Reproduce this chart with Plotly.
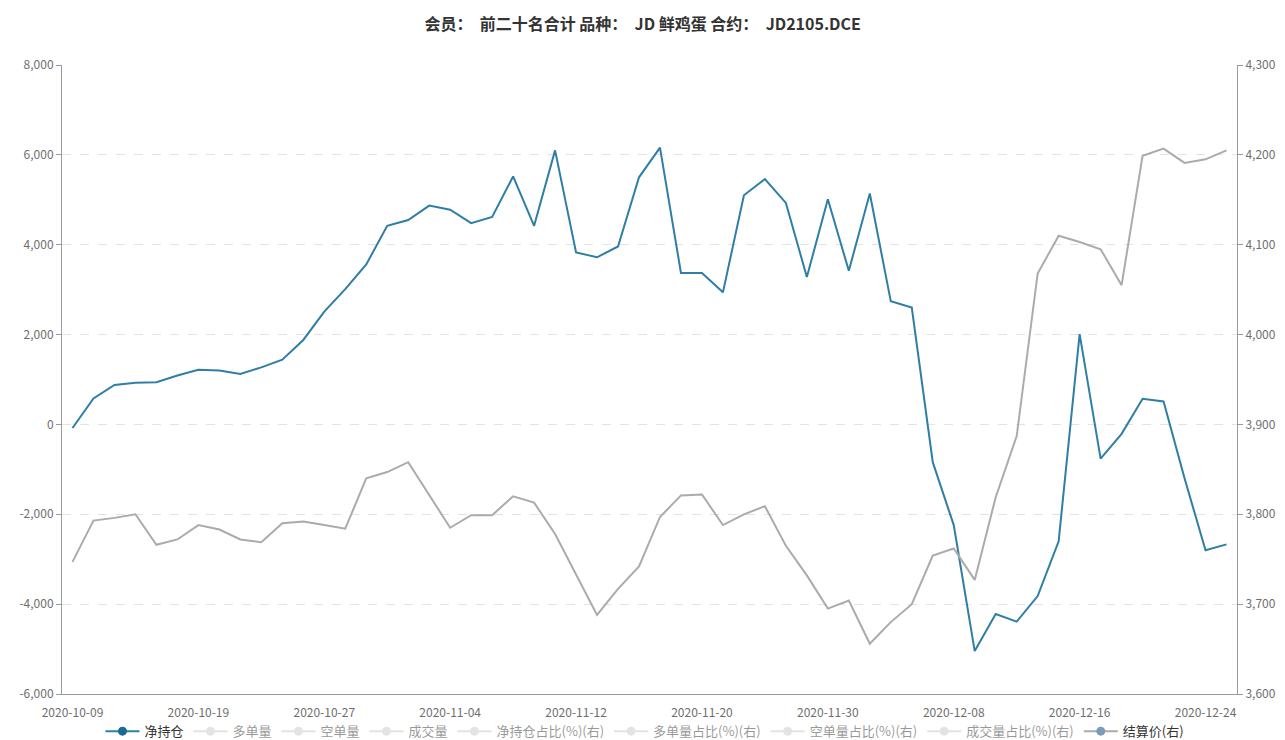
import plotly.graph_objects as go

# ---------------- data ----------------
dates = [
    "2020-10-09", "2020-10-12", "2020-10-13", "2020-10-14", "2020-10-15", "2020-10-16",
    "2020-10-19", "2020-10-20", "2020-10-21", "2020-10-22", "2020-10-23", "2020-10-26",
    "2020-10-27", "2020-10-28", "2020-10-29", "2020-10-30", "2020-11-02", "2020-11-03",
    "2020-11-04", "2020-11-05", "2020-11-06", "2020-11-09", "2020-11-10", "2020-11-11",
    "2020-11-12", "2020-11-13", "2020-11-16", "2020-11-17", "2020-11-18", "2020-11-19",
    "2020-11-20", "2020-11-23", "2020-11-24", "2020-11-25", "2020-11-26", "2020-11-27",
    "2020-11-30", "2020-12-01", "2020-12-02", "2020-12-03", "2020-12-04", "2020-12-07",
    "2020-12-08", "2020-12-09", "2020-12-10", "2020-12-11", "2020-12-14", "2020-12-15",
    "2020-12-16", "2020-12-17", "2020-12-18", "2020-12-21", "2020-12-22", "2020-12-23",
    "2020-12-24", "2020-12-25",
]

net_position = [
    -80, 580, 880, 925, 940, 1090, 1215, 1200, 1125, 1270,
    1440, 1880, 2510, 3010, 3560, 4420, 4550, 4870, 4780, 4480,
    4620, 5520, 4420, 6100, 3830, 3720, 3960, 5500, 6160, 3370,
    3370, 2940, 5100, 5460, 4930, 3280, 5010, 3420, 5140, 2740,
    2600, -840, -2240, -5045, -4220, -4390, -3820, -2600, 2010, -760,
    -210, 570, 510, -1200, -2800, -2670,
]

settle_price = [
    3747, 3793, 3796, 3800, 3766, 3772, 3788, 3783, 3772, 3769,
    3790, 3792, 3788, 3784, 3840, 3847, 3858, 3822, 3785, 3799,
    3799, 3820, 3813, 3778, 3733, 3688, 3717, 3742, 3797, 3821,
    3822, 3788, 3800, 3809, 3765, 3732, 3695, 3704, 3656, 3680,
    3700, 3754, 3762, 3727, 3819, 3887, 4068, 4110, 4103, 4095,
    4055, 4199, 4207, 4191, 4195, 4205,
]

hidden_left = ["多单量", "空单量", "成交量"]
hidden_right = ["净持仓占比(%)(右)", "多单量占比(%)(右)", "空单量占比(%)(右)", "成交量占比(%)(右)"]

left_ticks = [-6000, -4000, -2000, 0, 2000, 4000, 6000, 8000]
left_tick_labels = ["-6,000", "-4,000", "-2,000", "0", "2,000", "4,000", "6,000", "8,000"]
right_ticks = [3600, 3700, 3800, 3900, 4000, 4100, 4200, 4300]
right_tick_labels = ["3,600", "3,700", "3,800", "3,900", "4,000", "4,100", "4,200", "4,300"]

label_dates = dates[::6]
tick_dates = dates[3::6]

title_text = "会员：  前二十名合计 品种：  JD 鲜鸡蛋 合约：  JD2105.DCE"

# ---------------- figure ----------------
FONT = "Noto Sans CJK SC, Noto Sans, sans-serif"
AXIS_COLOR = "#9a9a9a"
LABEL_COLOR = "#6e6e6e"
HIDDEN_COLOR = "#c8c8c8"

fig = go.Figure()

fig.add_trace(go.Scatter(
    x=dates, y=net_position, name="净持仓", mode="lines+markers",
    line=dict(color="#2f7ea6", width=2),
    marker=dict(size=9, color="#1d6a91"),
    selectedpoints=[], unselected=dict(marker=dict(opacity=0)),
    xaxis="x", yaxis="y",
))

# series that are switched off in the legend (no values drawn)
for nm in hidden_left:
    fig.add_trace(go.Scatter(
        x=dates, y=[None for _ in dates], name=nm, mode="lines+markers",
        visible="legendonly",
        line=dict(color=HIDDEN_COLOR, width=2), marker=dict(size=9, color=HIDDEN_COLOR),
        xaxis="x", yaxis="y",
    ))
for nm in hidden_right:
    fig.add_trace(go.Scatter(
        x=dates, y=[None for _ in dates], name=nm, mode="lines+markers",
        visible="legendonly",
        line=dict(color=HIDDEN_COLOR, width=2), marker=dict(size=9, color=HIDDEN_COLOR),
        xaxis="x", yaxis="y2",
    ))

fig.add_trace(go.Scatter(
    x=dates, y=settle_price, name="结算价(右)", mode="lines+markers",
    line=dict(color="#ababab", width=2),
    marker=dict(size=9, color="#7d9bbb"),
    selectedpoints=[], unselected=dict(marker=dict(opacity=0)),
    xaxis="x", yaxis="y2",
))

fig.update_layout(
    width=1277, height=732,
    margin=dict(l=54, r=48, t=57, b=46, autoexpand=False),
    paper_bgcolor="white", plot_bgcolor="white",
    font=dict(family=FONT, size=12, color=LABEL_COLOR),
    title=dict(
        text="<b>" + title_text + "</b>",
        x=0.497, xref="container", xanchor="center",
        y=0.978, yref="container", yanchor="middle",
        font=dict(family=FONT, size=16, color="#333333"),
    ),
    showlegend=True,
    legend=dict(
        orientation="h",
        x=0.4988, xref="container", xanchor="center",
        y=0.012, yref="container", yanchor="middle",
        font=dict(family=FONT, size=13, color="#333333"),
        itemclick=False, itemdoubleclick=False,
        traceorder="normal", bgcolor="rgba(0,0,0,0)",
        itemwidth=34,
    ),
    hovermode="x",
    xaxis=dict(
        type="category", categoryorder="array", categoryarray=dates,
        range=[-0.5, len(dates) - 0.5],
        tickmode="array", tickvals=label_dates, ticktext=label_dates,
        ticks="", showgrid=False, zeroline=False, automargin=False,
        showline=True, linecolor=AXIS_COLOR, linewidth=1,
        tickfont=dict(family=FONT, size=12, color=LABEL_COLOR),
        tickangle=0, ticklabelstandoff=8,
    ),
    xaxis2=dict(
        type="category", categoryorder="array", categoryarray=dates,
        range=[-0.5, len(dates) - 0.5],
        overlaying="x", anchor="y", side="bottom", automargin=False,
        tickmode="array", tickvals=tick_dates,
        ticks="outside", ticklen=5, tickcolor=AXIS_COLOR, tickwidth=1,
        showticklabels=False, showgrid=False, zeroline=False, showline=False,
    ),
    yaxis=dict(
        range=[-6000, 8000], automargin=False,
        tickmode="array", tickvals=left_ticks, ticktext=left_tick_labels,
        ticks="outside", ticklen=5, tickcolor=AXIS_COLOR,
        showline=True, linecolor=AXIS_COLOR, linewidth=1,
        showgrid=True, gridcolor="#e3e3e3", griddash="dash", gridwidth=1,
        zeroline=False,
        tickfont=dict(family=FONT, size=12, color=LABEL_COLOR),
    ),
    yaxis2=dict(
        range=[3600, 4300], overlaying="y", side="right", anchor="x",
        automargin=False,
        tickmode="array", tickvals=right_ticks, ticktext=right_tick_labels,
        ticks="outside", ticklen=5, tickcolor=AXIS_COLOR,
        showline=True, linecolor=AXIS_COLOR, linewidth=1,
        showgrid=False, zeroline=False,
        tickfont=dict(family=FONT, size=12, color=LABEL_COLOR),
    ),
)

fig.write_html("out.html")
